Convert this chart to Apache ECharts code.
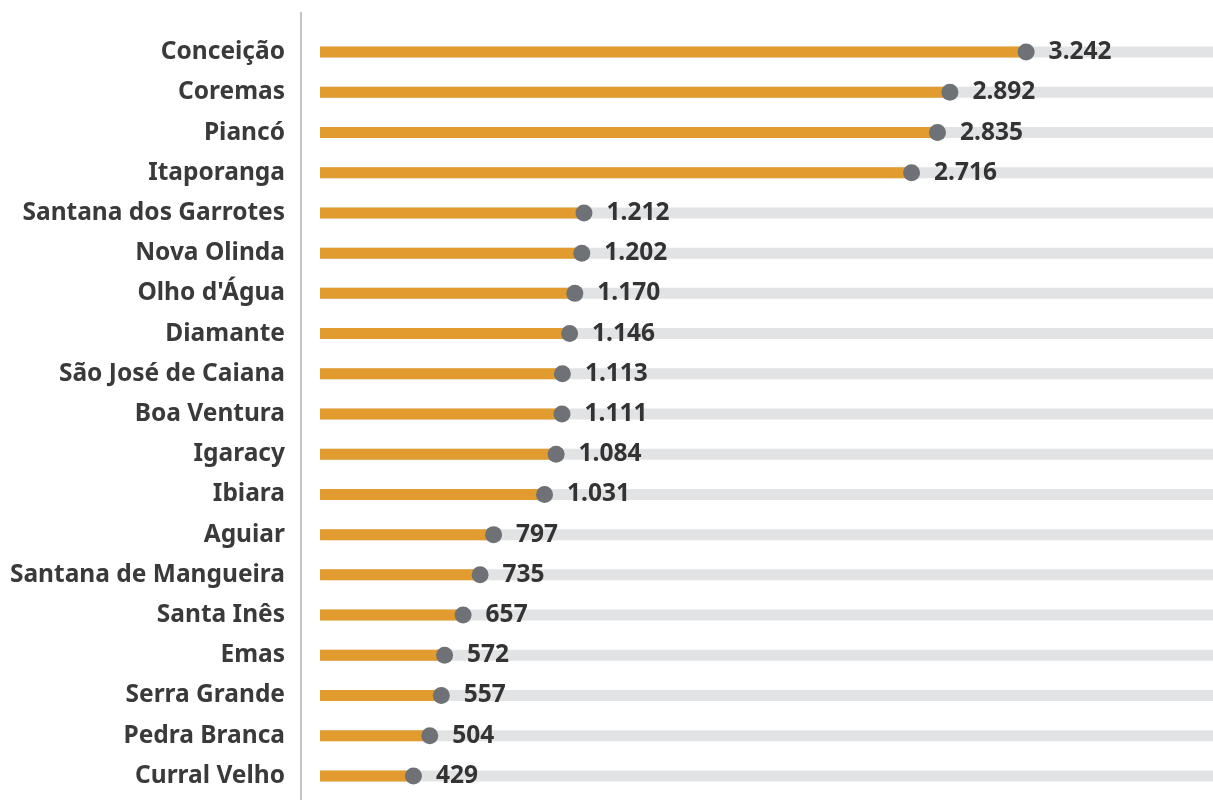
<!DOCTYPE html>
<html>
<head>
<meta charset="utf-8">
<script src="https://cdn.jsdelivr.net/npm/echarts@6/dist/echarts.min.js"></script>
<style>
  html, body { margin: 0; padding: 0; background: #fff; }
  #chart { width: 1213px; height: 800px; }
</style>
</head>
<body>
<div id="chart"></div>
<script>
const cidades = [
  "Conceição", "Coremas", "Piancó", "Itaporanga", "Santana dos Garrotes",
  "Nova Olinda", "Olho d'Água", "Diamante", "São José de Caiana", "Boa Ventura",
  "Igaracy", "Ibiara", "Aguiar", "Santana de Mangueira", "Santa Inês",
  "Emas", "Serra Grande", "Pedra Branca", "Curral Velho"
];
const valores = [
  3242, 2892, 2835, 2716, 1212, 1202, 1170, 1146, 1113, 1111,
  1084, 1031, 797, 735, 657, 572, 557, 504, 429
];
const maxEixo = 4100;

// formato pt-BR: ponto como separador de milhar
const fmt = (v) => String(v).replace(/\B(?=(\d{3})+(?!\d))/g, ".");

const chart = echarts.init(document.getElementById("chart"));

const option = {
  animation: false,
  grid: { left: 320, right: 0, top: 32, bottom: 4 },
  xAxis: {
    type: "value",
    min: 0,
    max: maxEixo,
    show: false,
  },
  yAxis: {
    type: "category",
    data: cidades,
    inverse: true,
    axisLine: { show: false },
    axisTick: { show: false },
    axisLabel: {
      margin: 35,
      color: "#3a3a3a",
      fontFamily: "Noto Sans",
      fontWeight: "bold",
      fontSize: 24.5,
    },
  },
  graphic: [
    {
      type: "line",
      shape: { x1: 301, y1: 12, x2: 301, y2: 800 },
      style: { stroke: "#9a9a9a", lineWidth: 1.2 },
    },
  ],
  series: [
    {
      type: "bar",
      data: cidades.map(() => maxEixo),
      barWidth: 11,
      barGap: "-100%",
      itemStyle: { color: "#e2e3e5" },
      silent: true,
      z: 1,
    },
    {
      type: "bar",
      data: valores,
      barWidth: 11,
      itemStyle: { color: "#e29b2f" },
      z: 2,
    },
    {
      type: "scatter",
      data: valores,
      symbolSize: 17,
      itemStyle: { color: "#6e7175", opacity: 1 },
      label: {
        show: true,
        position: "right",
        distance: 14,
        formatter: (p) => fmt(p.value),
        color: "#333",
        fontFamily: "Noto Sans",
        fontWeight: "bold",
        fontSize: 24.5,
      },
      z: 3,
    },
  ],
};

chart.setOption(option);
</script>
</body>
</html>
